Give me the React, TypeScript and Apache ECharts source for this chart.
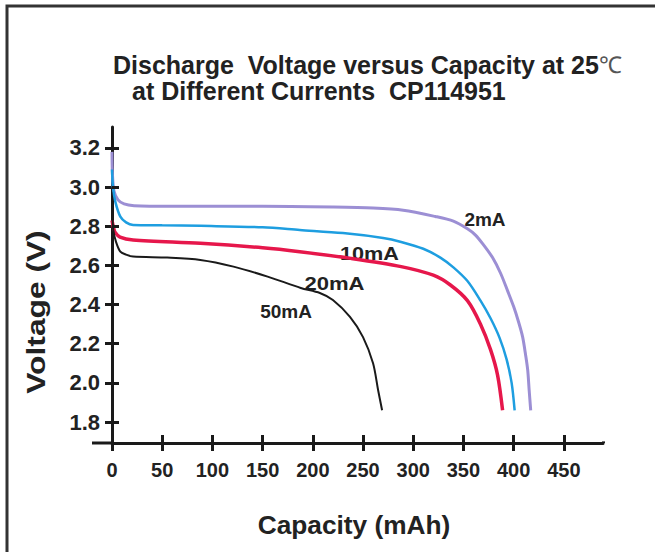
import React, { useEffect, useRef } from "react";
import * as echarts from "echarts";

// ---- data (capacity mAh, voltage V) ----
const xTickValues = [0, 50, 100, 150, 200, 250, 300, 350, 400, 450];
const yTickValues = [1.8, 2.0, 2.2, 2.4, 2.6, 2.8, 3.0, 3.2];

const curve2mA: [number, number][] = [
  [0, 3.18], [0.5, 3.06], [2, 2.98], [6, 2.935], [12, 2.914], [22, 2.905],
  [60, 2.902], [150, 2.902], [220, 2.898], [260, 2.893], [290, 2.882],
  [322, 2.85], [340, 2.826], [354, 2.787], [362, 2.755], [370, 2.705],
  [379, 2.64], [387, 2.56], [394, 2.47], [400, 2.39], [405, 2.31],
  [409, 2.234], [412, 2.14], [414, 2.066], [415.5, 1.96], [417, 1.86],
];

const curve10mA: [number, number][] = [
  [0, 3.09], [1, 3.0], [3.3, 2.926], [8.3, 2.849], [14, 2.82], [21, 2.807],
  [50, 2.805], [88, 2.802], [150, 2.795], [187, 2.781], [230, 2.765],
  [270, 2.74], [288, 2.72], [310, 2.685], [327, 2.64], [340, 2.59],
  [354, 2.52], [367, 2.42], [377, 2.33], [386, 2.23], [393, 2.12],
  [398, 2.0], [401, 1.86],
];

const curve20mA: [number, number][] = [
  [0, 2.83], [1.3, 2.798], [3, 2.77], [8, 2.745], [21, 2.73], [88, 2.713],
  [150, 2.69], [187, 2.67], [238, 2.636], [288, 2.594], [320, 2.55],
  [337, 2.5], [354, 2.42], [367, 2.3], [377, 2.17], [384, 2.04], [389, 1.86],
];

const curve50mA: [number, number][] = [
  [0, 2.925], [0.5, 2.85], [1.3, 2.78], [4, 2.72], [8.3, 2.67], [14, 2.655],
  [21, 2.645], [55, 2.64], [88, 2.628], [121, 2.594], [155, 2.543],
  [188, 2.485], [207, 2.459], [220, 2.423], [237, 2.337], [250, 2.234],
  [260, 2.1], [265, 1.964], [269, 1.86],
];

const seriesNames = ["2mA", "10mA", "20mA", "50mA"];
const seriesColors = ["#9c8fd4", "#1e9ee0", "#e6174b", "#1a1a1a"];
const seriesWidths = [3, 2.5, 3.5, 2];

const FONT = "'Liberation Sans', Arial, sans-serif";
const INK = "#222";

// plot geometry
const GRID_LEFT = 112;
const GRID_TOP = 127;
const GRID_RIGHT = 52;
const GRID_BOTTOM = 109;
const X_MIN = 0;
const X_MAX = 489;
const Y_MIN = 1.693;
const Y_MAX = 3.307;
const TICK_LEN = 7;

export default function App() {
  const ref = useRef<HTMLDivElement>(null);

  useEffect(() => {
    if (!ref.current) return;
    const chart = echarts.init(ref.current, null, { renderer: "svg" });
    const curves = [curve2mA, curve10mA, curve20mA, curve50mA];

    const axisLineStyle = { color: "#1a1a1a", width: 3 };
    const hiddenLine = { color: "#1a1a1a", width: 3, opacity: 0 };
    const gridRightPx = 655 - GRID_RIGHT;
    const plotW = 655 - GRID_LEFT - GRID_RIGHT;
    // inward tick length expressed in x-axis units
    const tickInX = (TICK_LEN / plotW) * (X_MAX - X_MIN);

    const option: any = {
      animation: false,
      backgroundColor: "#fff",
      title: [
        {
          text: "Discharge  Voltage versus Capacity at 25{c|℃}",
          left: 113,
          top: 52,
          padding: 0,
          textStyle: {
            fontFamily: FONT,
            fontWeight: "bold",
            fontSize: 25,
            lineHeight: 25,
            color: INK,
            rich: {
              c: { fontFamily: FONT, fontWeight: "normal", fontSize: 23, color: "#555", lineHeight: 25 },
            },
          },
        },
        {
          text: "at Different Currents  CP114951",
          left: 132,
          top: 78,
          padding: 0,
          textStyle: {
            fontFamily: FONT,
            fontWeight: "bold",
            fontSize: 25,
            lineHeight: 25,
            color: INK,
          },
        },
      ],
      grid: { left: GRID_LEFT, top: GRID_TOP, right: GRID_RIGHT, bottom: GRID_BOTTOM, outerBoundsMode: "none" },
      xAxis: [
        {
          type: "value",
          min: X_MIN,
          max: X_MAX,
          interval: 50,
          axisLine: { onZero: false, lineStyle: axisLineStyle },
          axisTick: { length: 8, customValues: xTickValues, lineStyle: axisLineStyle },
          axisLabel: {
            customValues: xTickValues,
            margin: 17,
            fontFamily: FONT,
            fontWeight: "bold",
            fontSize: 20,
            color: INK,
          },
          splitLine: { show: false },
        },
        {
          // inward halves of the crossing ticks
          type: "value",
          position: "bottom",
          min: X_MIN,
          max: X_MAX,
          interval: 50,
          axisLine: { show: true, onZero: false, lineStyle: hiddenLine },
          axisTick: { show: true, inside: true, length: 8, lineStyle: axisLineStyle },
          axisLabel: { show: false },
          splitLine: { show: false },
        },
      ],
      yAxis: {
        type: "value",
        min: Y_MIN,
        max: Y_MAX,
        splitNumber: 8,
        axisLine: { show: true, onZero: false, lineStyle: axisLineStyle },
        axisTick: { show: true, length: TICK_LEN, customValues: yTickValues, lineStyle: axisLineStyle },
        axisLabel: {
          customValues: yTickValues,
          margin: 12,
          padding: [0, 0, 5, 0],
          fontFamily: FONT,
          fontWeight: "bold",
          fontSize: 22,
          color: INK,
          formatter: (v: number) => v.toFixed(1),
        },
        splitLine: { show: false },
      },
      series: curves.map((d, i) => ({
        name: seriesNames[i],
        type: "line",
        data: d,
        smooth: 0.3,
        symbol: "none",
        showSymbol: false,
        lineStyle: { color: seriesColors[i], width: seriesWidths[i] },
        z: 3,
        ...(i === 0
          ? {
              // inward halves of the y-axis crossing ticks, placed through the axis scales
              markLine: {
                silent: true,
                symbol: ["none", "none"],
                label: { show: false },
                emphasis: { disabled: true },
                lineStyle: { type: "solid", color: "#1a1a1a", width: 3 },
                data: yTickValues.map((v) => [
                  { coord: [X_MIN, v] },
                  { coord: [X_MIN + tickInX, v] },
                ]),
              },
            }
          : {}),
      })),
      graphic: [
        {
          type: "rect",
          shape: { x: 7, y: 6, width: 720, height: 620 },
          style: { fill: "none", stroke: "#333", lineWidth: 3 },
          silent: true,
        },
        // mask the automatic end-of-extent tick of the helper x axis (no tick there in the reference)
        {
          type: "rect",
          z: 100,
          shape: { x: gridRightPx - 5, y: 552 - GRID_BOTTOM - 12, width: 10, height: 10.4 },
          style: { fill: "#fff" },
          silent: true,
        },
        {
          type: "line",
          shape: { x1: 92, y1: 443, x2: 113, y2: 443 },
          style: { stroke: "#1a1a1a", lineWidth: 3 },
          silent: true,
        },
        {
          type: "text",
          x: 36,
          y: 312,
          rotation: Math.PI / 2,
          scaleX: 1.27,
          style: {
            text: "Voltage (V)",
            font: `bold 25px ${FONT}`,
            fill: INK,
            textAlign: "center",
            textVerticalAlign: "middle",
          },
        },
        {
          type: "text",
          x: 354,
          y: 525.5,
          scaleX: 1.05,
          style: {
            text: "Capacity (mAh)",
            font: `bold 25px ${FONT}`,
            fill: INK,
            textAlign: "center",
            textVerticalAlign: "middle",
          },
        },
        {
          type: "text",
          x: 485,
          y: 219.5,
          style: { text: "2mA", font: `bold 19px ${FONT}`, fill: INK, textAlign: "center", textVerticalAlign: "middle" },
        },
        {
          type: "text",
          x: 369.5,
          y: 253,
          scaleX: 1.14,
          style: { text: "10mA", font: `bold 19px ${FONT}`, fill: INK, textAlign: "center", textVerticalAlign: "middle" },
        },
        {
          type: "text",
          x: 334.5,
          y: 283,
          scaleX: 1.16,
          style: { text: "20mA", font: `bold 19px ${FONT}`, fill: INK, textAlign: "center", textVerticalAlign: "middle" },
        },
        {
          type: "text",
          x: 286,
          y: 311,
          style: { text: "50mA", font: `bold 19px ${FONT}`, fill: INK, textAlign: "center", textVerticalAlign: "middle" },
        },
      ],
    };

    chart.setOption(option);
    return () => chart.dispose();
  }, []);

  return (
    <div
      ref={ref}
      style={{ position: "absolute", left: 0, top: 0, width: 655, height: 552, background: "#fff" }}
    />
  );
}
